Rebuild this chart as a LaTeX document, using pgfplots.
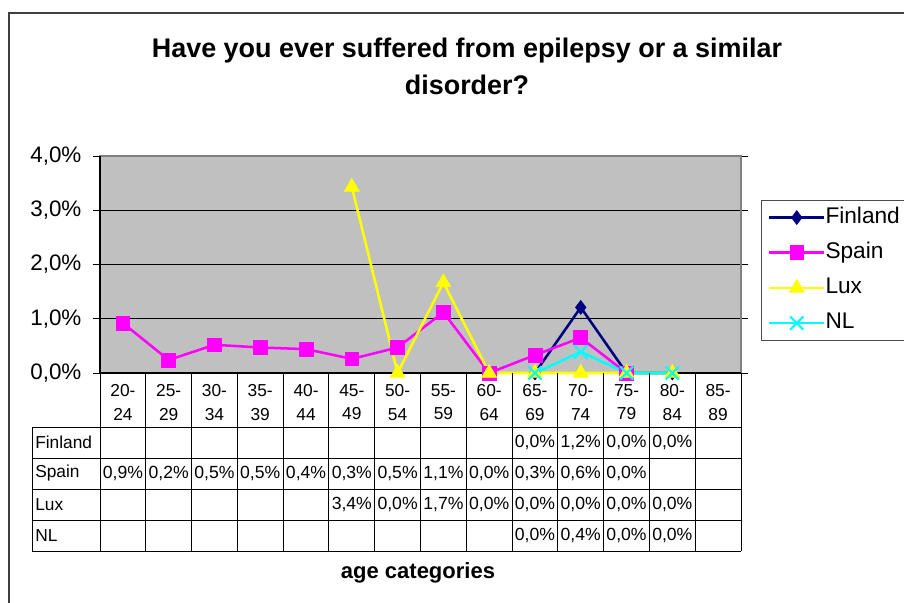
\documentclass[border=0pt]{standalone}
\usepackage{pgfplots}
\pgfplotsset{compat=1.18}
\usepackage{fontspec}
\setmainfont{Liberation Sans}
\definecolor{fin}{RGB}{0,0,128}
\definecolor{spa}{RGB}{255,0,255}
\definecolor{lux}{RGB}{255,255,0}
\definecolor{nl}{RGB}{0,255,255}
\definecolor{silver}{RGB}{192,192,192}
\definecolor{bord}{RGB}{128,128,128}
\newcommand{\pct}[1]{\pgfmathprintnumber[fixed, fixed zerofill, precision=1, use comma, assume math mode=true]{#1}\%}
\begin{document}
\begin{tikzpicture}
\useasboundingbox (0,0) rectangle (678pt,-452.25pt);
\begin{scope}[x=0.75pt,y=-0.75pt]
\draw[line width=1.5pt, black!75] (8.5,12.5) rectangle (1000,700);
\node[align=center, font=\bfseries\fontsize{20.2pt}{27.75pt}\selectfont] at (467,66) {Have you ever suffered from epilepsy or a similar\\disorder?};
\node[font=\bfseries\fontsize{16.5pt}{19pt}\selectfont] at (418,573) {age categories};
\end{scope}
\begin{axis}[
  at={(75pt,-279.75pt)}, anchor=south west,
  scale only axis, width=480.75pt, height=162.75pt,
  xmin=-0.5, xmax=13.5, ymin=0, ymax=4,
  clip=false,
  axis background/.style={fill=silver},
  axis line style={bord, line width=1.5pt},
  ymajorgrids, grid style={black, line width=0.75pt},
  ytick={0,1,2,3,4},
  yticklabels={{0,0\%},{1,0\%},{2,0\%},{3,0\%},{4,0\%}},
  yticklabel style={anchor=east, inner sep=0pt, xshift=-8.5pt, font=\fontsize{16.8pt}{18pt}\selectfont},
  ytick style={black, line width=0.75pt},
  tick align=outside, major tick length=5.25pt,
  xtick={0,...,13},
  xticklabels={{20-\\24},{25-\\29},{30-\\34},{35-\\39},{40-\\44},{45-\\49},{50-\\54},{55-\\59},{60-\\64},{65-\\69},{70-\\74},{75-\\79},{80-\\84},{85-\\89}},
  xtick style={draw=none},
  xticklabel style={anchor=north, inner sep=0pt, yshift=-3.3pt, align=center, font=\fontsize{13pt}{17.5pt}\selectfont},
  legend style={at={(1.031,0.797)}, anchor=north west, draw=black!70, line width=0.75pt,
    inner xsep=5pt, inner ysep=5pt, row sep=10.9pt,
    font=\fontsize{17pt}{19pt}\selectfont,
    nodes={inner sep=0pt, text height=12pt, text depth=3.5pt}},
  legend cell align=left,
  legend image code/.code={\draw[mark repeat=2, mark phase=2, #1] plot coordinates {(0pt,0pt) (20.6pt,0pt) (41.2pt,0pt)}; \hspace{4.5pt}},
]
\draw[black, line width=1.2pt] (rel axis cs:0,1) -- (rel axis cs:0,0) -- (rel axis cs:1,0);
\addplot[fin, line width=1.9pt, mark=diamond*, mark size=5.2pt, mark options={solid, fill=fin, line width=0.5pt}]
  coordinates {(9,0) (10,1.21) (11,0) (12,0)};
\addlegendentry{Finland}
\addplot[spa, line width=1.9pt, mark=square*, mark size=5.2pt, mark options={solid, fill=spa, line width=0.5pt}]
  coordinates {(0,0.92) (1,0.24) (2,0.52) (3,0.47) (4,0.44) (5,0.26) (6,0.47) (7,1.12) (8,0) (9,0.33) (10,0.65) (11,0)};
\addlegendentry{Spain}
\addplot[lux, line width=1.9pt, mark=triangle*, mark size=6.4pt, mark options={solid, fill=lux, line width=0.5pt}]
  coordinates {(5,3.43) (6,0) (7,1.67) (8,0) (9,0) (10,0) (11,0) (12,0)};
\addlegendentry{Lux}
\addplot[nl, line width=1.9pt, mark=x, mark size=7pt, mark options={solid, line width=1.6pt}]
  coordinates {(9,0) (10,0.39) (11,0) (12,0)};
\addlegendentry{NL}
\end{axis}
\begin{scope}[x=0.75pt,y=-0.75pt]
\foreach \k in {0,...,14} {\draw[black, line width=0.75pt] ({100+641*\k/14},373) -- ({100+641*\k/14},551);}
\draw[black, line width=0.75pt] (32,427) -- (32,551);
\foreach \yy in {427,458,489,520,551} {\draw[black, line width=0.75pt] (32,\yy) -- (741,\yy);}
\foreach \n/\yy in {Finland/442.5,Spain/473.5,Lux/504.5,NL/535.5} {\node[anchor=west, inner sep=0pt, font=\fontsize{13pt}{15pt}\selectfont] at (35,\yy) {\n};}
\foreach \i/\v in {9/0,10/1.2,11/0,12/0} {\node[font=\fontsize{13.2pt}{15pt}\selectfont, inner sep=0pt] at ({100+641*(\i+0.5)/14},442.5) {\pct{\v}};}
\foreach \i/\v in {0/0.9,1/0.2,2/0.5,3/0.5,4/0.4,5/0.3,6/0.5,7/1.1,8/0,9/0.3,10/0.6,11/0} {\node[font=\fontsize{13.2pt}{15pt}\selectfont, inner sep=0pt] at ({100+641*(\i+0.5)/14},473.5) {\pct{\v}};}
\foreach \i/\v in {5/3.4,6/0,7/1.7,8/0,9/0,10/0,11/0,12/0} {\node[font=\fontsize{13.2pt}{15pt}\selectfont, inner sep=0pt] at ({100+641*(\i+0.5)/14},504.5) {\pct{\v}};}
\foreach \i/\v in {9/0,10/0.4,11/0,12/0} {\node[font=\fontsize{13.2pt}{15pt}\selectfont, inner sep=0pt] at ({100+641*(\i+0.5)/14},535.5) {\pct{\v}};}
\end{scope}
\end{tikzpicture}
\end{document}
